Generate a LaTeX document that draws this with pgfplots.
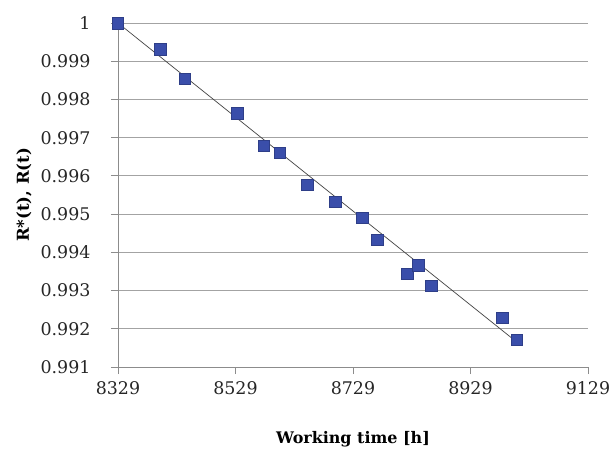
\documentclass[border=0pt]{standalone}
\usepackage{pgfplots}
\pgfplotsset{compat=1.18}
\usepackage{fontspec}
\setmainfont{DejaVu Serif}
\definecolor{mk}{HTML}{3A4EAA}
\definecolor{ax}{HTML}{8C8C8C}
\begin{document}
\begin{tikzpicture}
\begin{axis}[
  scale only axis, width=470bp, height=344bp,
  xmin=8329, xmax=9129, ymin=0.991, ymax=1,
  xtick={8329,8529,8729,8929,9129},
  ytick={0.991,0.992,0.993,0.994,0.995,0.996,0.997,0.998,0.999,1},
  yticklabels={0.991,0.992,0.993,0.994,0.995,0.996,0.997,0.998,0.999,1},
  xticklabels={8329,8529,8729,8929,9129},
  axis x line*=bottom, axis y line*=left,
  axis line style={ax, line width=0.8pt, -},
  tick style={ax, line width=0.8pt},
  tick align=outside, major tick length=7bp,
  ymajorgrids, grid style={ax!80, line width=0.8pt},
  ticklabel style={font=\fontsize{17.5}{20}\selectfont, text=black!85},
  xticklabel style={yshift=-4bp},
  yticklabel style={xshift=-17bp},
  xlabel={\textbf{Working time [h]}},
  ylabel={\textbf{R*(t), R(t)}},
  xlabel style={font=\fontsize{16}{19}\selectfont, at={(axis description cs:0.5,0)}, anchor=north, yshift=-61bp},
  ylabel style={font=\fontsize{16.5}{19}\selectfont, at={(axis description cs:0,0.5)}, anchor=south, yshift=83bp},
  clip=false,
]
\addplot[black!75, line width=0.7pt] coordinates {(8329,1.0) (9008,0.99165)};
\addplot[only marks, mark=square*, mark size=5.7bp, mark options={fill=mk, draw=mk!80!black}] coordinates {
(8329,1.0) (8401,0.99931) (8443,0.99855) (8532,0.99764) (8577,0.99679)
(8604,0.99660) (8651,0.99577) (8699,0.99533) (8745,0.99490) (8770,0.99433)
(8821,0.99344) (8840,0.99366) (8862,0.99312) (8983,0.99229) (9008,0.99172)
};
\end{axis}
\pgfresetboundingbox
\path[use as bounding box] (current axis.south west) ++(-118bp,-83bp) rectangle ++(611bp,450bp);
\end{tikzpicture}
\end{document}
